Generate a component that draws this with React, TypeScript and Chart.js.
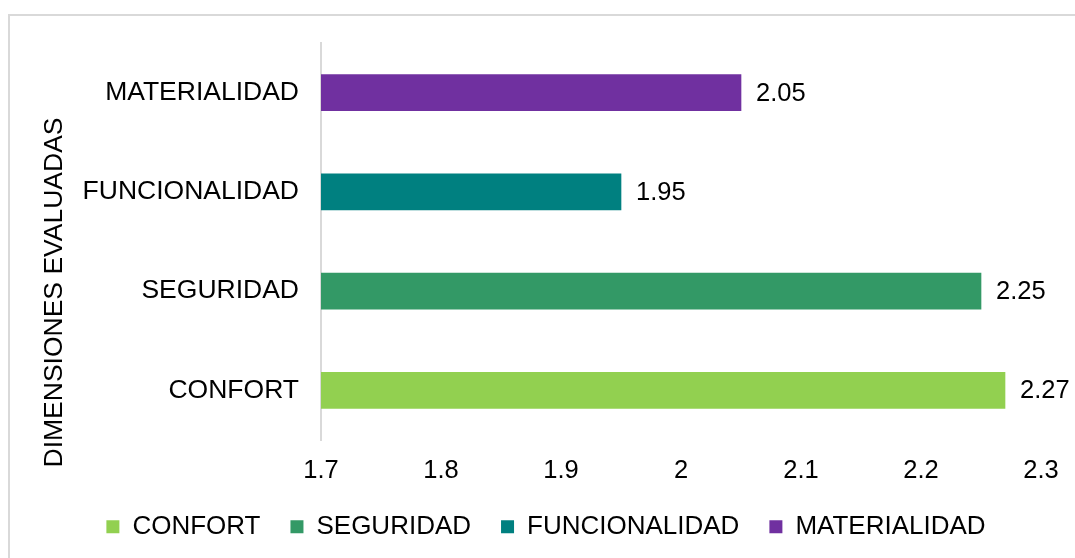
import React, { useEffect, useRef } from "react";
import { Chart, registerables } from "chart.js";

Chart.register(...registerables);

const categories = ["CONFORT", "SEGURIDAD", "FUNCIONALIDAD", "MATERIALIDAD"];
const values = [2.27, 2.25, 1.95, 2.05];
const colors = ["#92D050", "#339966", "#008080", "#7030A0"];
const xTicks = [1.7, 1.8, 1.9, 2, 2.1, 2.2, 2.3];
const axisTitle = "DIMENSIONES EVALUADAS";

const FONT = '"Liberation Sans", Arial, sans-serif';

const valueLabels = {
  id: "valueLabels",
  afterDatasetsDraw(chart: any) {
    const ctx = chart.ctx;
    ctx.save();
    ctx.font = `25.5px ${FONT}`;
    ctx.fillStyle = "#000";
    ctx.textAlign = "left";
    ctx.textBaseline = "middle";
    chart.data.datasets.forEach((ds: any, i: number) => {
      const meta = chart.getDatasetMeta(i);
      meta.data.forEach((el: any, j: number) => {
        const v = ds.data[j];
        if (v == null) return;
        ctx.fillText(String(v), el.x + 15, el.y + 1);
      });
    });
    ctx.restore();
  },
};

const yTitle = {
  id: "yTitle",
  afterDraw(chart: any) {
    const ctx = chart.ctx;
    const s = chart.scales.y;
    ctx.save();
    ctx.font = `26.5px ${FONT}`;
    ctx.fillStyle = "#000";
    ctx.textAlign = "center";
    ctx.textBaseline = "middle";
    ctx.translate(s.left + 4, (chart.chartArea.top + chart.height) / 2 - 8);
    ctx.rotate(-Math.PI / 2);
    ctx.fillText(axisTitle, 0, 0);
    ctx.restore();
  },
};

export default function App() {
  const ref = useRef<HTMLCanvasElement>(null);

  useEffect(() => {
    if (!ref.current) return;
    const chart = new Chart(ref.current, {
      type: "bar",
      data: {
        labels: categories,
        datasets: categories.map((c, i) => ({
          label: c,
          data: categories.map((_, j) => (j === i ? values[i] : null)),
          backgroundColor: colors[i],
          borderWidth: 0,
          barThickness: 36,
          skipNull: true,
        })),
      } as any,
      options: {
        indexAxis: "y",
        animation: false,
        responsive: false,
        maintainAspectRatio: false,
        layout: { padding: { left: 51, right: 34, top: 43, bottom: 8.25 } },
        scales: {
          x: {
            min: 1.7,
            max: 2.3,
            afterBuildTicks: (s: any) => {
              s.ticks = xTicks.map((v) => ({ value: v }));
            },
            ticks: {
              font: { family: FONT, size: 25.5 },
              color: "#000",
              padding: 16,
              maxRotation: 0,
              autoSkip: false,
              callback: (v: any) => String(Math.round(Number(v) * 10) / 10),
            },
            grid: { display: false, drawTicks: false },
            border: { display: false },
            afterFit: (s: any) => {
              s.height = 43.75;
              s.paddingLeft = 0;
              s.paddingRight = 0;
            },
          },
          y: {
            reverse: true,
            ticks: {
              font: { family: FONT, size: 26.5 },
              color: "#000",
              padding: 22,
            },
            grid: { display: false, drawTicks: false },
            border: { display: true, color: "#d9d9d9", width: 2 },
            afterFit: (s: any) => {
              s.width = 270;
              s.paddingTop = 0;
              s.paddingBottom = 0;
            },
          },
        },
        plugins: {
          legend: {
            position: "bottom",
            labels: {
              boxWidth: 13,
              boxHeight: 13,
              padding: 30,
              color: "#000",
              font: { family: FONT, size: 26 },
            },
          },
          tooltip: { enabled: false },
        },
      } as any,
      plugins: [valueLabels, yTitle],
    });
    return () => chart.destroy();
  }, []);

  return (
    <div
      style={{
        position: "fixed",
        left: 0,
        top: 0,
        width: 1075,
        height: 558,
        overflow: "hidden",
        background: "#fff",
      }}
    >
      <div
        style={{
          position: "absolute",
          left: 8,
          top: 14,
          width: 2000,
          height: 2000,
          border: "2px solid #d9d9d9",
        }}
      />
      <canvas
        ref={ref}
        width={1075}
        height={558}
        style={{ position: "absolute", left: 0, top: 0, display: "block" }}
      />
    </div>
  );
}
